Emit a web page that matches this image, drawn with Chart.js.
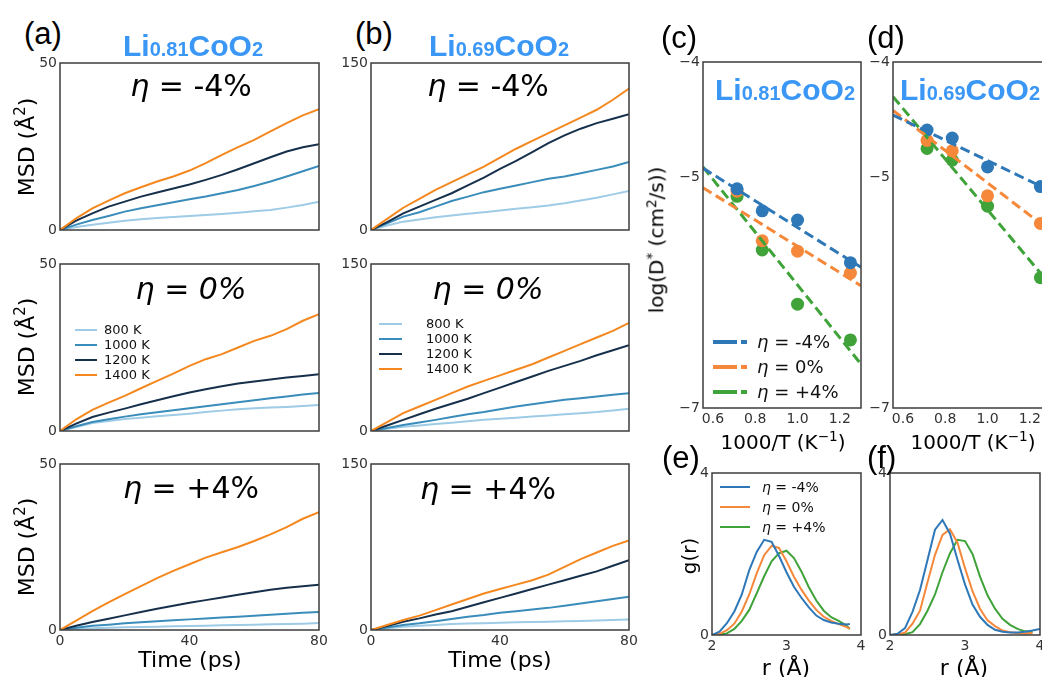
<!DOCTYPE html>
<html>
<head>
<meta charset="utf-8">
<script src="https://cdn.jsdelivr.net/npm/chart.js@4.4.1/dist/chart.umd.min.js"></script>
<style>
  body { margin: 0; background: #fff; }
  #fig { position: relative; width: 1042px; height: 677px; overflow: hidden; background: #fff; }
  #fig canvas { position: absolute; }
  .t { position: absolute; white-space: nowrap; line-height: 1; color: #000; }
  .letter { font: 31px 'Liberation Sans', Arial, sans-serif; }
  .comp { font: bold 30px 'Liberation Sans', Arial, sans-serif; color: #3a97f5; transform: translateX(-50%); }
  .comp sub { font-size: 20px; vertical-align: baseline; }
  .eta { font: 30px 'DejaVu Sans', sans-serif; transform: translate(-50%, -50%); }
  .ylab { font: 22px 'DejaVu Sans', sans-serif; transform: translate(-50%, -50%) rotate(-90deg); }
  .xlab { font: 22px 'DejaVu Sans', sans-serif; transform: translate(-50%, -50%); }
  .sm { font-size: 20px; }
  .t sup { font-size: 0.68em; vertical-align: 0.55em; }
  .leg { font-family: 'DejaVu Sans', sans-serif; color: #111; }
  .sw { position: absolute; }
</style>
</head>
<body>
<div id="fig"></div>
<script>
// ---- data ----
const times = [0, 5, 10, 15, 20, 25, 30, 35, 40, 45, 50, 55, 60, 65, 70, 75, 80];
const temps = ['800 K', '1000 K', '1200 K', '1400 K'];
const tempColors = ['#9ecbe6', '#3a8dba', '#16304c', '#f4881f'];

// Li0.81CoO2 MSD (Å^2), rows = 800,1000,1200,1400 K
const msdA_neg4 = [
  [0, 0.9, 1.6, 2.2, 2.8, 3.2, 3.6, 3.9, 4.2, 4.5, 4.8, 5.2, 5.6, 6, 6.7, 7.5, 8.5],
  [0, 1.6, 3, 4.2, 5.5, 6.5, 7.4, 8.3, 9.2, 10, 11, 12, 13.2, 14.5, 16, 17.6, 19.2],
  [0, 2.8, 5, 7, 8.5, 10, 11.2, 12.4, 13.6, 15, 16.5, 18.2, 20, 21.8, 23.5, 24.8, 25.7],
  [0, 3.5, 6.5, 8.8, 11, 12.8, 14.5, 16, 17.8, 20, 22.5, 24.8, 27, 29.5, 32, 34.3, 36.2]
];
const msdA_0 = [
  [0, 1.2, 2.4, 3, 3.6, 4, 4.4, 4.8, 5.2, 5.7, 6.1, 6.5, 6.8, 7, 7.2, 7.5, 7.8],
  [0, 1.4, 2.7, 3.5, 4.3, 5, 5.6, 6.2, 6.8, 7.4, 8, 8.6, 9.2, 9.8, 10.3, 10.9, 11.4],
  [0, 2.2, 4.2, 5.5, 6.7, 8, 9.2, 10.4, 11.5, 12.5, 13.4, 14.2, 14.8, 15.4, 16, 16.5, 17],
  [0, 3.5, 6.3, 8.5, 10.5, 12.8, 15, 17.2, 19.5, 21.5, 23, 25, 27, 28.5, 30.5, 33, 35]
];
const msdA_pos4 = [
  [0, 0.3, 0.5, 0.7, 0.8, 0.9, 1, 1.1, 1.2, 1.3, 1.4, 1.5, 1.6, 1.7, 1.8, 1.9, 2.1],
  [0, 0.7, 1.3, 1.6, 2, 2.3, 2.6, 2.9, 3.2, 3.5, 3.8, 4, 4.3, 4.6, 4.9, 5.2, 5.4],
  [0, 1.3, 2.4, 3.4, 4.4, 5.4, 6.4, 7.3, 8.2, 9, 9.8, 10.6, 11.4, 12.1, 12.7, 13.2, 13.6],
  [0, 2.8, 5.7, 8.3, 10.8, 13.2, 15.6, 17.8, 19.8, 21.8, 23.4, 25, 26.8, 28.8, 31, 33.5, 35.5]
];
// Li0.69CoO2 MSD (Å^2)
const msdB_neg4 = [
  [0, 4, 7.5, 9.5, 11.5, 13, 14.5, 16, 17.5, 19, 20.5, 22, 24, 26.5, 29, 32, 35],
  [0, 6, 12, 16, 21, 26, 30, 34, 37, 40, 43, 46, 48, 51, 54, 57, 61],
  [0, 7, 15, 21, 27, 33, 40, 47, 55, 62, 70, 78, 85, 91, 96, 100, 104],
  [0, 10, 20, 28, 36, 43, 50, 57, 65, 73, 80, 87, 94, 101, 108, 117, 127]
];
const msdB_0 = [
  [0, 2, 3.9, 5, 6.3, 7.5, 8.8, 10, 11, 12, 13, 14, 15, 16, 17, 18.5, 20],
  [0, 2.7, 5.4, 7.7, 10, 12.5, 15, 17, 19.5, 22, 24, 26, 28, 29.5, 31, 32.5, 34],
  [0, 5, 10, 15, 20, 24.5, 29, 34, 39, 44, 49, 54, 58.5, 63, 68, 72.5, 77],
  [0, 8, 16, 22, 28, 34, 40, 45, 50, 55, 60, 66, 72, 78, 84, 90, 97]
];
const msdB_pos4 = [
  [0, 1.5, 3, 3.8, 4.6, 5.4, 5.8, 6.2, 6.6, 6.9, 7.2, 7.5, 7.8, 8.1, 8.5, 9, 9.6],
  [0, 2.3, 4.5, 6, 8, 10, 12, 13.5, 15.5, 17, 18.5, 20, 22, 24, 26, 28, 30],
  [0, 3.5, 7.5, 10.5, 14, 17, 21, 25, 29, 33, 37, 41, 45, 49, 53, 58, 63],
  [0, 4.5, 9, 13, 18, 23, 28, 33, 37, 41, 45, 50, 57, 64, 70, 76, 81]
];

// Arrhenius plots, rows = eta -4%, 0%, +4%
const strains = ['-4%', '0%', '+4%'];
const strainColors = ['#2f78b8', '#f5883a', '#3fa33a'];
const invT = [0.714, 0.833, 1.0, 1.25];
const logD_c = [
  [-5.10, -5.29, -5.37, -5.74],
  [-5.12, -5.55, -5.64, -5.83],
  [-5.165, -5.63, -6.10, -6.41]
];
const logD_d = [
  [-4.59, -4.66, -4.91, -5.08],
  [-4.68, -4.77, -5.16, -5.40],
  [-4.75, -4.85, -5.25, -5.87]
];
const fitX = [0.553, 1.30];
const fit_c = [[-4.92, -5.78], [-5.09, -5.94], [-4.91, -6.62]];
const fit_d = [[-4.46, -5.12], [-4.42, -5.47], [-4.30, -5.94]];

// radial distribution g(r)
const r_e = [2.0, 2.1, 2.2, 2.3, 2.4, 2.5, 2.6, 2.7, 2.8, 2.9, 3.0, 3.1, 3.2, 3.3, 3.4, 3.5, 3.6, 3.7, 3.8, 3.85];
const g_e = [
  [0, 0.08, 0.29, 0.58, 1.0, 1.6, 2.05, 2.35, 2.3, 1.95, 1.55, 1.19, 0.92, 0.68, 0.48, 0.37, 0.31, 0.28, 0.26, 0.27],
  [0, 0.03, 0.12, 0.28, 0.58, 1.0, 1.52, 1.97, 2.2, 2.15, 1.82, 1.44, 1.12, 0.85, 0.62, 0.45, 0.35, 0.27, 0.2, 0.16],
  [0, 0.01, 0.04, 0.15, 0.35, 0.62, 1.03, 1.45, 1.82, 2.02, 2.08, 1.9, 1.57, 1.18, 0.85, 0.6, 0.44, 0.35, 0.24, 0.15]
];
const r_f = [2.0, 2.1, 2.2, 2.3, 2.4, 2.5, 2.6, 2.7, 2.8, 2.9, 3.0, 3.1, 3.2, 3.3, 3.4, 3.5, 3.6, 3.7, 3.8, 3.9, 4.0];
const g_f = [
  [0, 0.03, 0.17, 0.57, 1.11, 1.85, 2.6, 2.84, 2.5, 1.86, 1.25, 0.75, 0.45, 0.25, 0.13, 0.08, 0.06, 0.06, 0.08, 0.11, 0.15],
  [0, 0.01, 0.06, 0.28, 0.6, 1.3, 1.98, 2.47, 2.61, 2.28, 1.65, 1.08, 0.65, 0.36, 0.22, 0.11, 0.07, 0.05, 0.04, 0.05],
  [0, 0, 0.02, 0.07, 0.27, 0.6, 1.0, 1.55, 2.02, 2.35, 2.32, 2.0, 1.44, 0.98, 0.65, 0.4, 0.25, 0.15, 0.09, 0.07]
];

// ---- drawing ----
const fig = document.getElementById('fig');
const tickFont = { family: 'DejaVu Sans', size: 14 };

// frame round the plot area, like matplotlib spines
const boxPlugin = {
  id: 'box',
  afterDraw(chart) {
    const a = chart.chartArea, ctx = chart.ctx;
    ctx.save();
    ctx.strokeStyle = '#3c3c3c';
    ctx.lineWidth = 1.5;
    ctx.strokeRect(a.left, a.top, a.right - a.left, a.bottom - a.top);
    ctx.restore();
  }
};

function axis(min, max, tickVals, fmt, show) {
  return {
    type: 'linear', min: min, max: max,
    border: { display: false },
    grid: { display: false, drawTicks: false },
    afterBuildTicks: s => { s.ticks = tickVals.map(v => ({ value: v })); },
    ticks: { display: show, font: tickFont, color: '#333', padding: 3, autoSkip: false, maxRotation: 0, callback: fmt }
  };
}

// pad = [top, right, bottom, left] around the plot area
function makeChart(left, top, w, h, pad, datasets, xs, ys) {
  const cv = document.createElement('canvas');
  const cw = w + pad[1] + pad[3], ch = h + pad[0] + pad[2];
  cv.width = cw; cv.height = ch;
  cv.style.left = (left - pad[3]) + 'px';
  cv.style.top = (top - pad[0]) + 'px';
  cv.style.width = cw + 'px';
  cv.style.height = ch + 'px';
  fig.appendChild(cv);
  xs.afterFit = s => { s.height = pad[2]; s.paddingLeft = 0; s.paddingRight = 0; };
  ys.afterFit = s => { s.width = pad[3]; s.paddingTop = 0; s.paddingBottom = 0; };
  return new Chart(cv, {
    type: 'line',
    data: { datasets: datasets },
    options: {
      responsive: false, animation: false, devicePixelRatio: 1,
      layout: { padding: { top: pad[0], right: pad[1], bottom: 0, left: 0 } },
      plugins: { legend: { display: false }, tooltip: { enabled: false } },
      scales: { x: xs, y: ys }
    },
    plugins: [boxPlugin]
  });
}

function msdPanel(left, top, w, h, series, ymax, showX) {
  const ds = series.map((vals, i) => ({
    label: temps[i],
    data: vals.map((v, j) => ({ x: times[j], y: v })),
    borderColor: tempColors[i], borderWidth: 2, pointRadius: 0, fill: false, order: 3 - i
  }));
  makeChart(left, top, w, h, [10, 30, 30, 45], ds,
    axis(0, 80, [0, 40, 80], v => String(v), showX),
    axis(0, ymax, [0, ymax], v => String(v), true));
}

msdPanel(60, 63, 259, 167, msdA_neg4, 50, false);
msdPanel(60, 264, 259, 167, msdA_0, 50, false);
msdPanel(60, 464, 259, 166, msdA_pos4, 50, true);
msdPanel(371, 63, 258, 167, msdB_neg4, 150, false);
msdPanel(371, 264, 258, 167, msdB_0, 150, false);
msdPanel(371, 464, 258, 166, msdB_pos4, 150, true);

const minus = v => (v < 0 ? '\u2212' + Math.abs(v) : String(v));

function arrPanel(left, logD, fit) {
  const ds = [];
  fit.forEach((f, i) => ds.push({
    data: fitX.map((x, j) => ({ x: x, y: f[j] })),
    borderColor: strainColors[i], borderWidth: 3, borderDash: [10, 5], pointRadius: 0, order: 0
  }));
  logD.forEach((vals, i) => ds.push({
    data: invT.map((x, j) => ({ x: x, y: vals[j] })),
    showLine: false, pointRadius: 6.5, pointBackgroundColor: strainColors[i], pointBorderWidth: 0, order: 1
  }));
  makeChart(left, 62, 158, 346, [10, 12, 30, 40], ds,
    axis(0.553, 1.30, [0.6, 0.8, 1.0, 1.2], v => v.toFixed(1), true),
    axis(-7, -4, [-7, -5, -4], minus, true));
}
arrPanel(703, logD_c, fit_c);
arrPanel(893, logD_d, fit_d);

function grPanel(left, w, rs, gs) {
  const ds = gs.map((vals, i) => ({
    data: vals.map((v, j) => ({ x: rs[j], y: v })),
    borderColor: strainColors[i], borderWidth: 2, pointRadius: 0, order: i
  }));
  makeChart(left, 473, w, 162, [10, 12, 25, 20], ds,
    axis(2, 4, [2, 3, 4], v => String(v), true),
    axis(0, 4, [0, 4], v => String(v), true));
}
grPanel(712, 149, r_e, g_e);
grPanel(890, 150, r_f, g_f);

// ---- text ----
function addText(html, cls, x, y) {
  const d = document.createElement('div');
  d.className = 't ' + cls;
  d.innerHTML = html;
  d.style.left = x + 'px';
  d.style.top = y + 'px';
  fig.appendChild(d);
  return d;
}

[['(a)', 24, 16], ['(b)', 355, 16], ['(c)', 661, 20], ['(d)', 867, 20], ['(e)', 662, 440], ['(f)', 867, 440]]
  .forEach(l => addText(l[0], 'letter', l[1], l[2]));

addText('Li<sub>0.81</sub>CoO<sub>2</sub>', 'comp', 193, 29);
addText('Li<sub>0.69</sub>CoO<sub>2</sub>', 'comp', 499, 29);
addText('Li<sub>0.81</sub>CoO<sub>2</sub>', 'comp', 785, 73);
addText('Li<sub>0.69</sub>CoO<sub>2</sub>', 'comp', 970, 73);

const etaTitles = ['<i>η</i> = -4%', '<i>η</i> = <i>0%</i>', '<i>η</i> = +4%'];
const etaY = [85, 288, 487];
etaTitles.forEach((s, i) => {
  addText(s, 'eta', 191, etaY[i]);
  addText(s, 'eta', 488, etaY[i] + (i === 2 ? 1 : 0));
});

[147, 347, 547].forEach(y => addText('MSD (Å<sup>2</sup>)', 'ylab', 25, y));
addText('Time (ps)', 'xlab', 190, 659);
addText('Time (ps)', 'xlab', 500, 659);
addText('log(D<sup>*</sup> (cm<sup>2</sup>/s))', 'ylab sm', 656, 240);
addText('1000/T (K<sup>\u22121</sup>)', 'xlab sm', 783, 441);
addText('1000/T (K<sup>\u22121</sup>)', 'xlab sm', 973, 441);
addText('g(r)', 'ylab sm', 689, 556);
addText('r (Å)', 'xlab', 786, 667);
addText('r (Å)', 'xlab', 964, 667);

// ---- legends ----
function swatch(x1, x2, y, thick, bg) {
  const d = document.createElement('div');
  d.className = 'sw';
  d.style.left = x1 + 'px';
  d.style.top = (y - thick / 2) + 'px';
  d.style.width = (x2 - x1) + 'px';
  d.style.height = thick + 'px';
  d.style.background = bg;
  fig.appendChild(d);
}

function tempLegend(x1, x2, tx, rows) {
  temps.forEach((t, i) => {
    swatch(x1, x2, rows[i], 2, tempColors[i]);
    const d = addText(t, 'leg', tx, rows[i] - 7);
    d.style.fontSize = '13px';
  });
}
tempLegend(75, 97, 104, [330, 345, 360, 375]);
tempLegend(379, 402, 426, [324, 339, 354, 369]);

strains.forEach((s, i) => {
  const c = strainColors[i];
  swatch(713, 747, 342 + i * 25, 4,
    'linear-gradient(to right, ' + c + ' 0 24px, transparent 24px 28px, ' + c + ' 28px 34px)');
  const d = addText('<i>η</i> = ' + s, 'leg', 757, 342 + i * 25 - 9);
  d.style.fontSize = '18px';

  swatch(720, 750, 487 + i * 20, 2.5, c);
  const e = addText('<i>η</i> = ' + s, 'leg', 762, 487 + i * 20 - 7);
  e.style.fontSize = '14px';
});
</script>
</body>
</html>
